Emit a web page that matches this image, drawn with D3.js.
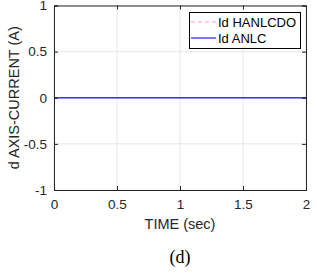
<!DOCTYPE html>
<html><head><meta charset="utf-8">
<script src="https://cdn.jsdelivr.net/npm/d3@7"></script>
<style>body{margin:0;background:#fff}svg{display:block}</style>
</head><body>
<script>
const time = [0, 0.25, 0.5, 0.75, 1, 1.25, 1.5, 1.75, 2];
const idHANLCDO = [0, 0, 0, 0, 0, 0, 0, 0, 0];
const idANLC = [0, 0, 0, 0, 0, 0, 0, 0, 0];
const xTicks = [0, 0.5, 1, 1.5, 2];
const yTicks = [-1, -0.5, 0, 0.5, 1];
const seriesNames = ["Id HANLCDO", "Id ANLC"];

const W = 317, H = 273;
const m = {l: 54, r: 11, t: 5.5, b: 83};
const svg = d3.select("body").append("svg").attr("width", W).attr("height", H);
const x = d3.scaleLinear().domain([0, 2]).range([m.l, W - m.r]);
const y = d3.scaleLinear().domain([-1, 1]).range([H - m.b, m.t]);
const font = "Liberation Sans, Arial, sans-serif";
const axisCol = "#262626";

// grid
svg.append("g").selectAll("line").data(xTicks).join("line")
  .attr("x1", d => x(d)).attr("x2", d => x(d)).attr("y1", y(-1)).attr("y2", y(1))
  .attr("stroke", "#e6e6e6").attr("stroke-width", 1);
svg.append("g").selectAll("line").data(yTicks).join("line")
  .attr("y1", d => y(d)).attr("y2", d => y(d)).attr("x1", x(0)).attr("x2", x(2))
  .attr("stroke", "#e6e6e6").attr("stroke-width", 1);

// lines
const line = vals => d3.line().x((d, i) => x(time[i])).y(d => y(d))(vals);
svg.append("path").attr("d", line(idHANLCDO)).attr("fill", "none")
  .attr("stroke", "#f4a3a8").attr("stroke-width", 1).attr("stroke-dasharray", "4,3");
svg.append("path").attr("d", line(idANLC)).attr("fill", "none")
  .attr("stroke", "#3232f0").attr("stroke-width", 1.3);

// axes
const xb = d3.axisBottom(x).tickValues(xTicks).tickSize(-4).tickPadding(9).tickFormat(d3.format("~g"));
const xt = d3.axisTop(x).tickValues(xTicks).tickSize(-4).tickFormat("");
const yl = d3.axisLeft(y).tickValues(yTicks).tickSize(-4).tickPadding(7).tickFormat(d => d3.format("~g")(d).replace("−", "-"));
const yr = d3.axisRight(y).tickValues(yTicks).tickSize(-4).tickFormat("");
function style(g){
  g.selectAll("path").attr("stroke", axisCol);
  g.selectAll("line").attr("stroke", axisCol);
  g.selectAll("text").attr("fill", axisCol).style("font-family", font).style("font-size", "13.5px");
}
svg.append("g").attr("transform", `translate(0,${y(-1)})`).call(xb).call(style);
svg.append("g").attr("transform", `translate(0,${y(1)})`).call(xt).call(style);
svg.append("g").attr("transform", `translate(${x(0)},0)`).call(yl).call(style);
svg.append("g").attr("transform", `translate(${x(2)},0)`).call(yr).call(style);
svg.selectAll(".domain").attr("stroke", axisCol);

// labels
svg.append("text").attr("x", (x(0) + x(2)) / 2).attr("y", 229).attr("text-anchor", "middle")
  .style("font-family", font).style("font-size", "14.5px").attr("fill", axisCol).text("TIME (sec)");
svg.append("text").attr("transform", `translate(19,${(y(-1) + y(1)) / 2}) rotate(-90)`)
  .attr("text-anchor", "middle").style("font-family", font).style("font-size", "14.5px")
  .attr("fill", axisCol).text("d AXIS-CURRENT (A)");
svg.append("text").attr("x", (x(0) + x(2)) / 2).attr("y", 263).attr("text-anchor", "middle")
  .style("font-family", "Liberation Serif, Times New Roman, serif").style("font-size", "18px")
  .attr("fill", "#000").text("(d)");

// legend
const lg = svg.append("g");
lg.append("rect").attr("x", 189.5).attr("y", 12.5).attr("width", 111).attr("height", 36)
  .attr("fill", "#fff").attr("stroke", "#000").attr("stroke-width", 1);
const lstyles = [{c: "#f4a3a8", d: "4,3", w: 1}, {c: "#3232f0", d: null, w: 1.3}];
seriesNames.forEach((n, i) => {
  const yy = 22 + i * 16;
  lg.append("line").attr("x1", 191).attr("x2", 216).attr("y1", yy).attr("y2", yy)
    .attr("stroke", lstyles[i].c).attr("stroke-width", lstyles[i].w).attr("stroke-dasharray", lstyles[i].d);
  lg.append("text").attr("x", 218).attr("y", yy + 5).style("font-family", font).style("font-size", "13px")
    .attr("fill", "#000").text(n);
});
</script>
</body></html>
